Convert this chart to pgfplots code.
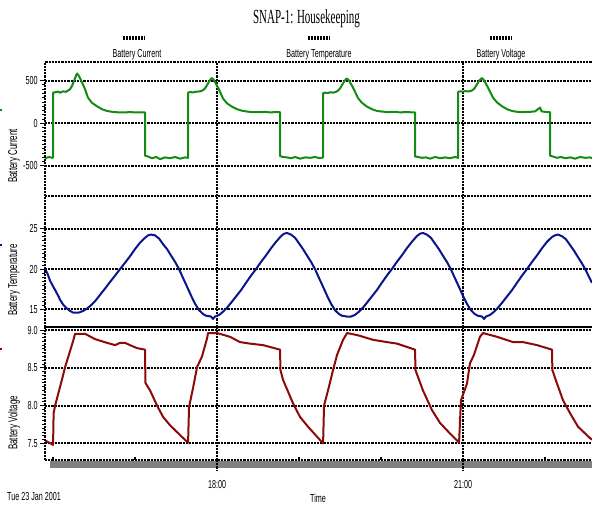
\documentclass[border=0pt]{standalone}
\usepackage{fontspec}
\usepackage{pgfplots}
\pgfplotsset{compat=1.18}
\newfontfamily\narrow{Liberation Sans}[FakeStretch=0.62]
\newfontfamily\titlefont{Liberation Serif}[FakeStretch=0.55]
\newcommand{\sm}{\narrow\fontsize{5.8}{7}\selectfont}
\newcommand{\lab}{\narrow\fontsize{6.4}{7}\selectfont}
\definecolor{curgreen}{RGB}{20,140,20}
\definecolor{tempblue}{RGB}{10,20,140}
\definecolor{voltred}{RGB}{140,10,10}
\definecolor{bargray}{RGB}{128,128,128}
\tikzset{dotline/.style={black, line width=1.05pt, dash pattern=on 1.1pt off 0.5pt}}
\pgfplotsset{
  panel/.style={
    scale only axis, width=273.5pt,
    xmin=954.1, xmax=1354.4,
    xtick={1080,1260}, xticklabels={},
    xmajorgrids, ymajorgrids,
    major grid style={dotline},
    axis line style={draw=none},
    ytick pos=left, xtick pos=bottom,
    tick align=outside,
    major tick length=2.5pt, minor tick length=1.6pt,
    ytick style={black, line width=0.5pt},
    xtick style={draw=none},
    minor y tick num=9,
    yticklabel style={font=\sm, inner sep=1pt},
    clip mode=individual,
  },
  trace/.style={line width=1pt, line join=round},
}
\begin{document}
\begin{tikzpicture}
\useasboundingbox (0,0) rectangle (296pt,253pt);

% Battery current
\begin{axis}[panel, at={(22.5pt,155pt)}, anchor=south west, height=67pt,
  ymin=-853, ymax=720, ytick={-500,0,500}, yticklabels={-500,0,500}]
\addplot[trace, curgreen] coordinates {
(954.1,-410) (957.1,-395) (959.3,-405) (960.0,-400)
(960.0,360) (961.5,365) (963.7,372) (965.1,360) (967.3,375) (969.5,370) (971.0,385) (972.4,400) (973.9,440) (975.4,500) (976.8,560) (977.6,585) (979.0,555) (981.2,480) (983.4,400) (985.6,300) (988.5,240) (992.2,200) (995.9,165) (999.5,145) (1003.2,135) (1006.8,130) (1012.7,128) (1016.3,132) (1020.0,128) (1023.7,130) (1027.3,128)
(1027.3,-380) (1029.5,-390) (1032.4,-410) (1035.4,-395) (1038.3,-420) (1042.0,-400) (1045.6,-410) (1049.3,-395) (1052.9,-415) (1056.6,-400) (1058.8,-405)
(1058.8,360) (1060.3,368) (1062.5,362) (1063.9,370) (1066.1,372) (1068.3,378) (1069.8,390) (1071.2,410) (1072.7,450) (1074.2,490) (1075.6,525) (1076.4,530) (1077.8,505) (1080.0,440) (1082.2,370) (1084.4,290) (1087.3,235) (1091.0,195) (1094.7,165) (1098.3,148) (1102.0,138) (1105.6,132) (1111.5,130) (1115.1,135) (1118.8,128) (1122.5,132) (1126.1,130)
(1126.1,-385) (1128.3,-395) (1131.2,-400) (1134.2,-410) (1137.1,-395) (1140.8,-415) (1144.4,-400) (1148.1,-405) (1151.7,-395) (1155.4,-410) (1157.6,-400)
(1157.6,355) (1159.1,360) (1161.3,355) (1162.7,365) (1164.9,360) (1167.1,370) (1168.6,385) (1170.0,410) (1171.5,450) (1173.0,490) (1174.4,520) (1175.2,525) (1176.6,500) (1178.8,440) (1181.0,370) (1183.2,295) (1186.1,240) (1189.8,195) (1193.5,165) (1197.1,145) (1200.8,138) (1204.4,132) (1210.3,135) (1213.9,128) (1217.6,132) (1221.3,130) (1224.9,128)
(1224.9,-390) (1227.1,-395) (1230.0,-405) (1233.0,-400) (1235.9,-415) (1239.6,-395) (1243.2,-410) (1246.9,-400) (1250.5,-410) (1254.2,-395) (1256.4,-405)
(1256.4,370) (1257.9,375) (1260.1,372) (1261.5,378) (1263.7,375) (1265.9,380) (1267.4,395) (1268.8,420) (1270.3,460) (1271.8,500) (1273.2,525) (1274.0,530) (1275.4,505) (1277.6,440) (1279.8,370) (1282.0,300) (1284.9,245) (1288.6,200) (1292.3,165) (1295.9,145) (1299.6,135) (1303.2,132) (1309.1,135) (1312.7,140) (1316.4,185) (1317.5,140) (1320.1,135) (1323.7,130)
(1323.7,-380) (1325.9,-390) (1328.8,-405) (1331.8,-395) (1334.7,-410) (1338.4,-400) (1342.0,-415) (1345.7,-395) (1349.3,-405) (1353.0,-400) (1354.4,-410)
};
\draw[dotline] (rel axis cs:0,0) -- (rel axis cs:0,1) -- (rel axis cs:1,1);
\draw[dotline] (rel axis cs:0,0) -- (rel axis cs:1,0);
\end{axis}

% Battery temperature
\begin{axis}[panel, at={(22.5pt,89.5pt)}, anchor=south west, height=65.5pt,
  ymin=12.8, ymax=29.1, ytick={15,20,25}, yticklabels={15,20,25}]
\addplot[trace, tempblue] coordinates {
(954.1,20.0) (955.8,19.5) (957.7,18.6) (959.5,18.0) (961.5,17.4) (963.7,16.7) (965.1,16.2) (967.3,15.6) (969.5,15.2) (972.4,14.8) (974.6,14.6)
(976.1,14.6) (979.0,14.6) (982.0,14.8) (984.9,15.1) (987.8,15.5) (990.7,16.0) (994.4,16.8) (998.1,17.6) (1001.7,18.4) (1005.4,19.2) (1009.0,20.0) (1012.7,20.8) (1016.3,21.6) (1020.0,22.5) (1023.7,23.3) (1027.3,23.9) (1029.5,24.2) (1031.7,24.3) (1034.6,24.2) (1037.6,23.8) (1040.5,23.1) (1043.4,22.5) (1046.3,21.7) (1049.3,20.9) (1052.2,20.0) (1055.1,18.9) (1058.1,17.8) (1061.0,16.7) (1063.9,15.7) (1066.8,14.9) (1069.8,14.4) (1072.0,14.2)
(1075.6,14.1) (1077.0,13.8) (1078.5,14.1) (1081.5,14.3) (1084.4,14.7) (1087.3,15.2) (1090.2,15.8) (1093.9,16.6) (1097.6,17.4) (1101.2,18.3) (1104.9,19.2) (1108.5,20.0) (1112.2,20.9) (1115.8,21.7) (1119.5,22.6) (1123.2,23.4) (1126.8,24.1) (1129.0,24.4) (1131.2,24.5) (1134.1,24.3) (1137.1,23.9) (1140.0,23.2) (1142.9,22.5) (1145.8,21.7) (1148.8,20.9) (1151.7,20.0) (1154.6,18.9) (1157.6,17.8) (1160.5,16.7) (1163.4,15.7) (1166.3,14.9) (1169.3,14.4) (1171.5,14.2)
(1175.0,14.1) (1177.9,14.1) (1180.9,14.3) (1183.8,14.7) (1186.7,15.2) (1189.6,15.8) (1193.3,16.6) (1197.0,17.4) (1200.6,18.3) (1204.3,19.2) (1207.9,20.0) (1211.6,20.9) (1215.2,21.7) (1218.9,22.6) (1222.6,23.4) (1226.2,24.1) (1228.4,24.4) (1230.6,24.5) (1233.5,24.3) (1236.5,23.9) (1239.4,23.2) (1242.3,22.5) (1245.2,21.7) (1248.2,20.9) (1251.1,20.0) (1254.0,18.9) (1257.0,17.8) (1259.9,16.7) (1262.8,15.7) (1265.7,14.9) (1268.7,14.4) (1270.9,14.2)
(1273.9,14.1) (1275.4,13.8) (1276.8,14.1) (1279.8,14.3) (1282.7,14.7) (1285.6,15.2) (1288.5,15.8) (1292.2,16.6) (1295.9,17.4) (1299.5,18.3) (1303.2,19.2) (1306.8,20.0) (1310.5,20.9) (1314.1,21.7) (1317.8,22.6) (1321.5,23.4) (1325.1,24.0) (1327.3,24.2) (1329.5,24.3) (1332.4,24.1) (1335.4,23.7) (1338.3,23.0) (1341.2,22.3) (1344.1,21.5) (1347.1,20.7) (1350.0,19.8) (1352.9,18.8) (1354.4,18.3)
};
\draw[dotline] (rel axis cs:0,0) -- (rel axis cs:0,1);
\draw[black, line width=1.1pt] (rel axis cs:0,0) -- (rel axis cs:1,0);
\end{axis}

% Battery voltage
\begin{axis}[panel, at={(22.5pt,23pt)}, anchor=south west, height=66.5pt,
  ymin=7.28, ymax=9.04, ytick={7.5,8,8.5,9}, yticklabels={7.5,8.0,8.5,9.0},
  xticklabels={18:00,21:00},
  xticklabel style={font=\sm, anchor=center, yshift=-10pt}]
\addplot[trace, voltred] coordinates {
(954.1,7.54) (960.0,7.48) (960.4,7.90) (961.5,8.00) (963.7,8.15) (966.6,8.35) (968.8,8.51) (972.4,8.72) (974.6,8.85) (976.1,8.95) (983.4,8.95) (990.7,8.88) (999.5,8.83) (1005.4,8.80) (1009.0,8.83) (1012.7,8.83) (1016.3,8.80) (1021.5,8.76) (1027.3,8.74)
(1027.6,8.30) (1031.0,8.20) (1036.1,8.00) (1040.5,7.85) (1045.6,7.74) (1052.9,7.61) (1058.8,7.51)
(1059.5,7.98) (1062.4,8.23) (1065.4,8.51) (1069.0,8.65) (1072.7,8.89) (1073.4,8.96) (1080.0,8.96) (1089.5,8.91) (1096.8,8.84) (1104.1,8.82) (1113.7,8.80) (1126.1,8.74)
(1126.4,8.47) (1128.3,8.34) (1135.6,8.03) (1140.7,7.85) (1146.6,7.72) (1157.6,7.50)
(1158.3,8.00) (1161.2,8.20) (1164.9,8.47) (1167.8,8.67) (1172.2,8.87) (1175.2,8.96) (1183.2,8.93) (1194.2,8.87) (1204.4,8.84) (1211.7,8.82) (1224.9,8.74)
(1225.2,8.47) (1230.7,8.20) (1237.3,7.94) (1243.2,7.77) (1250.5,7.63) (1257.1,7.51)
(1258.5,8.07) (1262.9,8.29) (1265.1,8.56) (1268.0,8.67) (1272.4,8.91) (1274.6,8.96) (1284.9,8.91) (1296.6,8.84) (1303.9,8.84) (1314.2,8.80) (1325.1,8.74)
(1325.4,8.47) (1328.8,8.29) (1333.2,8.07) (1338.3,7.90) (1344.2,7.72) (1352.9,7.57) (1354.4,7.55)
};
\draw[dotline] (rel axis cs:0,0) -- (rel axis cs:0,1);
\fill[bargray] ([yshift=-0.5pt]axis cs:957.8,7.28) rectangle ([yshift=-4pt]rel axis cs:1,0);
\draw[dotline] (rel axis cs:0,0) -- (rel axis cs:1,0);
\draw[dotline] (axis cs:1080,7.28) -- ([yshift=-5pt]axis cs:1080,7.28);
\draw[dotline] (axis cs:1260,7.28) -- ([yshift=-5pt]axis cs:1260,7.28);
\pgfplotsinvokeforeach{960,1020,1140,1200,1320}{\draw[black, line width=0.6pt] (axis cs:#1,7.28) -- ([yshift=1.6pt]axis cs:#1,7.28);}
\end{axis}

% titles and labels
\node[font=\titlefont\fontsize{10}{12}\selectfont, anchor=base] at (153.25pt,241pt) {SNAP-1: Housekeeping};
\node[font=\sm, anchor=base] at (68.5pt,224pt) {Battery Current};
\node[font=\sm, anchor=base] at (159.5pt,224pt) {Battery Temperature};
\node[font=\sm, anchor=base] at (250.5pt,224pt) {Battery Voltage};
\foreach \cx in {67,159.25,250.5}
  \draw[black, line width=2pt, dash pattern=on 1pt off 0.5pt] (\cx pt-5.5pt,233.75pt) -- (\cx pt+5.5pt,233.75pt);
\node[font=\lab, rotate=90] at (7pt,175pt) {Battery Current};
\node[font=\lab, rotate=90] at (7pt,113pt) {Battery Temperature};
\node[font=\lab, rotate=90] at (7pt,41.5pt) {Battery Voltage};
\node[font=\sm] at (159pt,4pt) {Time};
\node[font=\sm] at (17pt,4.5pt) {Tue 23 Jan 2001};
\fill[curgreen] (0pt,197.3pt) rectangle (1pt,198.7pt);
\fill[tempblue] (0pt,129.8pt) rectangle (1pt,131.2pt);
\fill[voltred] (0pt,77.8pt) rectangle (1pt,79.2pt);
\end{tikzpicture}
\end{document}
